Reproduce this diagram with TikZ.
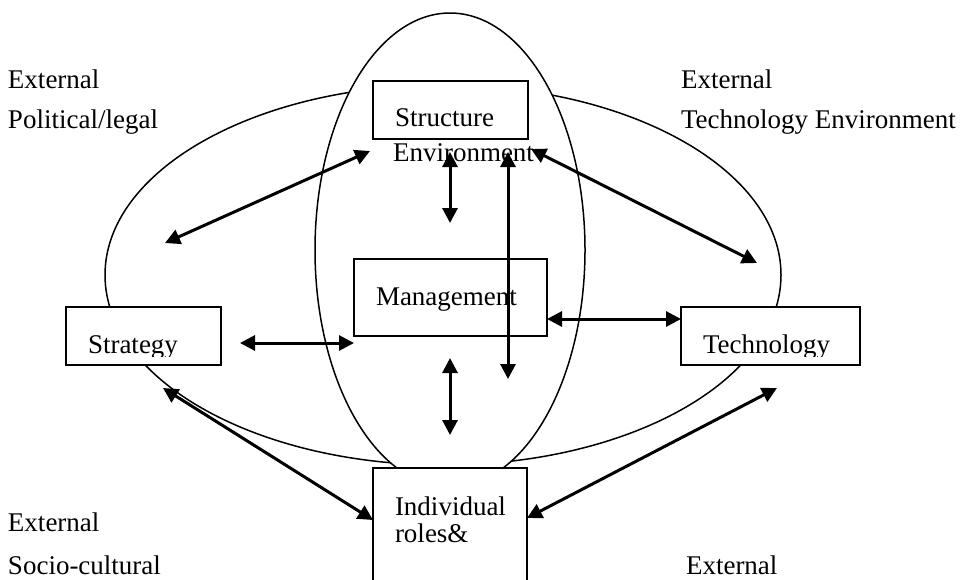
\documentclass[tikz,border=0pt]{standalone}
\usepackage{fontspec}
\setmainfont{Liberation Serif}
\usetikzlibrary{arrows.meta,shapes.geometric,fit}
\begin{document}
\begin{tikzpicture}[x=1pt,y=-1pt,
  every node/.style={inner sep=0pt, outer sep=0pt},
  ring/.style={ellipse, draw, line width=1.5pt, fill=white},
  box/.style={draw, line width=1.8pt, fill=white, inner sep=0pt},
  lbl/.style={anchor=base west, font=\fontsize{27}{30}\selectfont},
  link/.style={line width=3pt,
    {Triangle[length=15pt,width=15pt]}-{Triangle[length=15pt,width=15pt]}}]
\useasboundingbox (0,0) rectangle (960,579);

% the two overlapping environments
\node[ring, minimum width=676pt, minimum height=380pt] (horiz) at (443,275) {};
\node[ring, minimum width=270pt, minimum height=474pt] (vert) at (450,250) {};

% boxes
\node[box, fit={(373,81) (528,139)}] (structure) {};
\node[box, fit={(354,259) (547,336)}] (management) {};
\node[box, fit={(66,307) (221,365)}] (strategy) {};
\node[box, fit={(681,307) (860,365)}] (technology) {};
\node[box, fit={(373,468) (527,620)}] (individual) {};

% free labels
\node[lbl] (extpol) at (8,88) {External};
\node[lbl] (pol) at (8,128) {Political/legal};
\node[lbl] (exttech) at (681,88) {External};
\node[lbl] (techenv) at (681,128) {Technology Environment};
\node[lbl] (extsoc) at (8,531) {External};
\node[lbl] (soc) at (8,574) {Socio-cultural};
\node[lbl] (extlow) at (686,574) {External};

% box texts
\node[lbl] (tstructure) at (395,126) {Structure};
\node[lbl] (tenv) at (393,161) {Environment};
\node[lbl] (tmanagement) at (376,305) {Management};
\node[lbl] (tindividual) at (395,515) {Individual};
\node[lbl] (troles) at (395,542) {roles\&};
\begin{scope}
  \clip (66,300) rectangle (221,356);
  \node[lbl] (tstrategy) at (88,353) {Strategy};
\end{scope}
\begin{scope}
  \clip (681,300) rectangle (860,356);
  \node[lbl] (ttechnology) at (703,353) {Technology};
\end{scope}

% arrow end points
\coordinate (pa) at (165,243);
\coordinate (sa) at (370,151);
\coordinate (sb) at (531,149);
\coordinate (tb) at (757,263);
\coordinate (sc) at (450,152);
\coordinate (mc) at (450,223);
\coordinate (sd) at (508,152);
\coordinate (md) at (508,379);
\coordinate (me) at (450,358);
\coordinate (ie) at (450,435);
\coordinate (gf) at (240,343);
\coordinate (mf) at (354,343);
\coordinate (mg) at (547,319);
\coordinate (tg) at (681,319);
\coordinate (gh) at (163,388);
\coordinate (ih) at (373,520);
\coordinate (tk) at (777,388);
\coordinate (ik) at (527,518);

% relations
\draw[link] (pa) -- (sa);
\draw[link] (sb) -- (tb);
\draw[link] (sc) -- (mc);
\draw[link] (sd) -- (md);
\draw[link] (me) -- (ie);
\draw[link] (gf) -- (mf);
\draw[link] (mg) -- (tg);
\draw[link] (gh) -- (ih);
\draw[link] (tk) -- (ik);
\end{tikzpicture}
\end{document}
